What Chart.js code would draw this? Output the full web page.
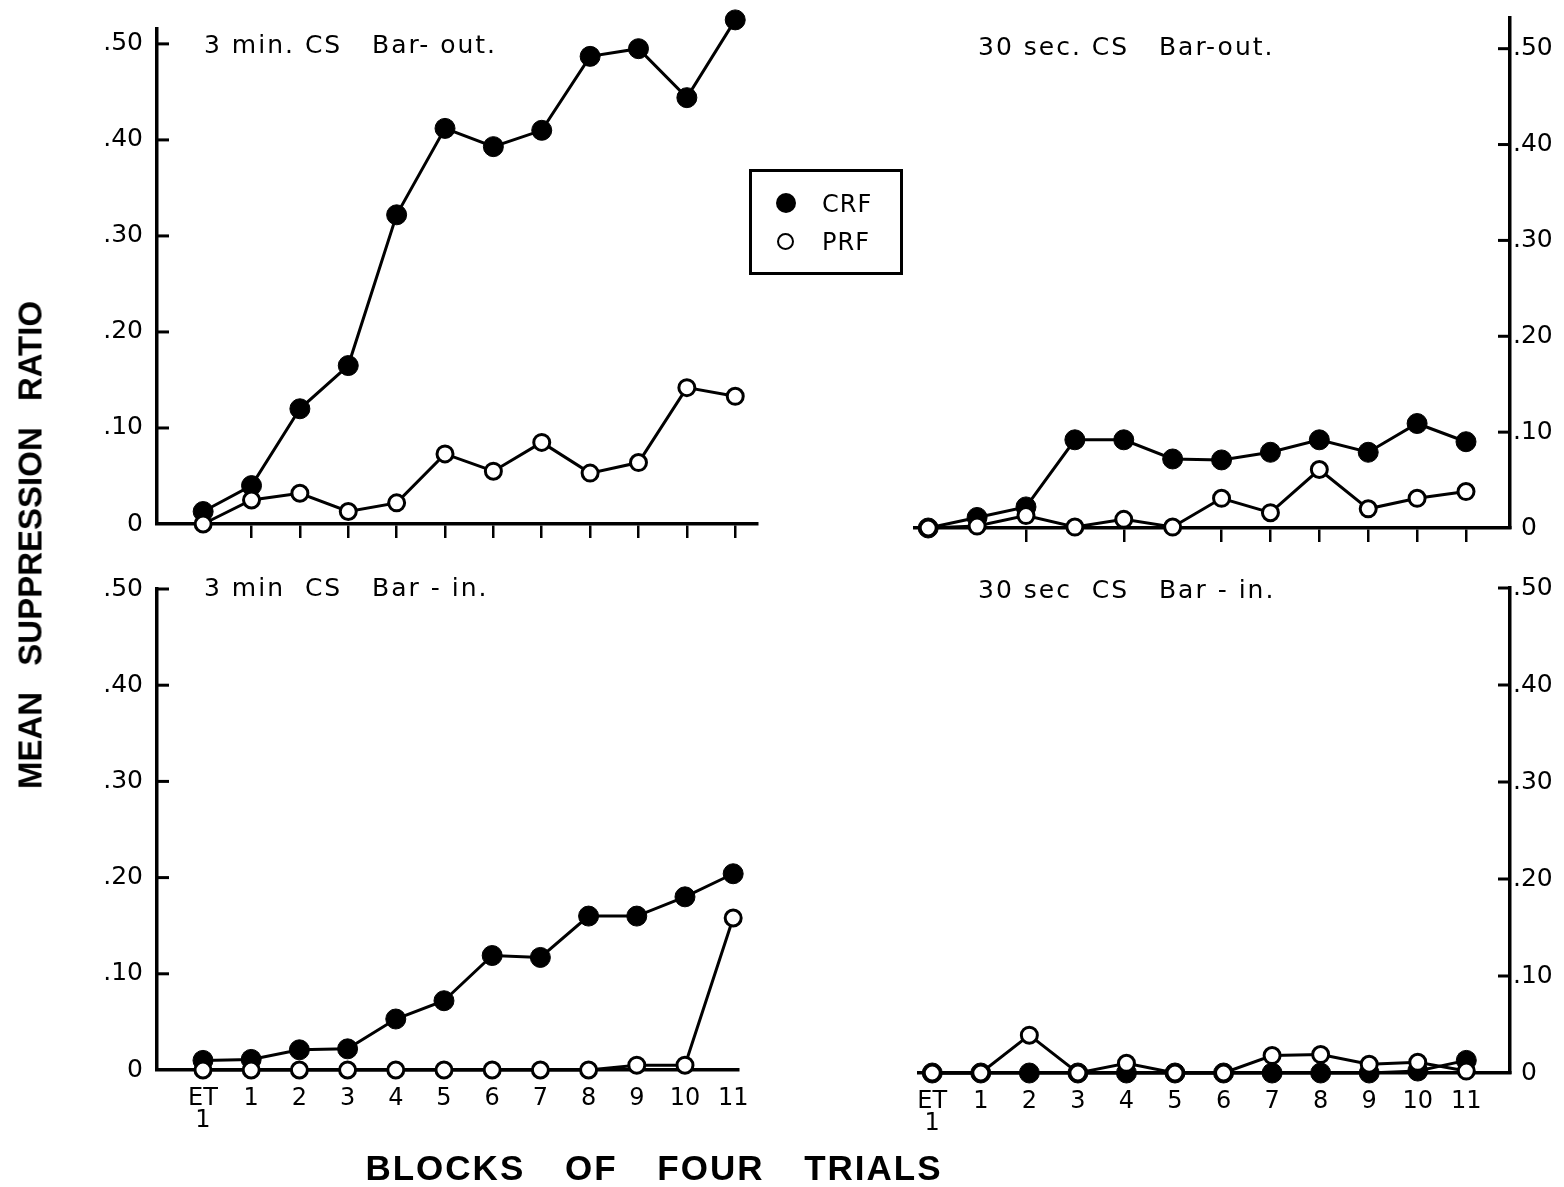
<!DOCTYPE html>
<html>
<head>
<meta charset="utf-8">
<script src="https://cdn.jsdelivr.net/npm/chart.js@4.4.1/dist/chart.umd.min.js"></script>
<style>
  body { margin: 0; background: #fff; }
  #page { position: relative; width: 1564px; height: 1187px; overflow: hidden; background: #fff;
          font-family: 'DejaVu Sans', sans-serif; color: #000; }
  canvas { position: absolute; }
  .ttl { position: absolute; font-size: 25px; letter-spacing: 2px; white-space: pre; line-height: 1; }
  .axttl { position: absolute; font-family: 'Liberation Sans', sans-serif; font-weight: bold;
           font-size: 35px; white-space: pre; line-height: 1; }
  #legend { position: absolute; left: 749px; top: 169px; width: 148px; height: 100px;
            border: 3px solid #000; }
  .lg { position: absolute; left: 0; font-size: 24px; letter-spacing: 1px; line-height: 1; }
  .dot { position: absolute; border-radius: 50%; box-sizing: border-box; }
</style>
</head>
<body>
<div id="page">
  <canvas id="tl" width="800" height="560" style="left:0;top:0"></canvas>
  <canvas id="tr" width="664" height="560" style="left:900px;top:0"></canvas>
  <canvas id="bl" width="800" height="600" style="left:0;top:560px"></canvas>
  <canvas id="br" width="664" height="600" style="left:900px;top:560px"></canvas>

  <div class="ttl" style="left:204px;top:32px">3 min. CS   Bar- out.</div>
  <div class="ttl" style="left:978px;top:34px">30 sec. CS   Bar-out.</div>
  <div class="ttl" style="left:204px;top:575px">3 min  CS   Bar - in.</div>
  <div class="ttl" style="left:978px;top:577px">30 sec  CS   Bar - in.</div>

  <div id="legend">
    <div class="dot" style="left:24px;top:21px;width:20px;height:20px;background:#000"></div>
    <div class="lg" style="left:70px;top:20px">CRF</div>
    <div class="dot" style="left:25px;top:61px;width:17px;height:17px;border:2.5px solid #000"></div>
    <div class="lg" style="left:70px;top:58px">PRF</div>
  </div>

  <div class="axttl" style="left:30px;top:545px;font-size:33px;transform:translate(-50%,-50%) rotate(-90deg);word-spacing:17px">MEAN SUPPRESSION RATIO</div>
  <div class="axttl" style="left:654px;top:1167px;letter-spacing:2px;transform:translate(-50%,-50%);word-spacing:28px">BLOCKS OF FOUR TRIALS</div>
</div>

<script>
// x categories (blocks of four trials)
const blockLabels = [['ET', '1'], '1', '2', '3', '4', '5', '6', '7', '8', '9', '10', '11'];

// y ticks
const yTickValues = [0, 0.1, 0.2, 0.3, 0.4, 0.5];
const yTickLabels = ['0', '.10', '.20', '.30', '.40', '.50'];

// 3 min CS, bar-out
const crf3minOut = [0.013, 0.040, 0.120, 0.165, 0.322, 0.412, 0.393, 0.410, 0.487, 0.495, 0.444, 0.525];
const prf3minOut = [0.000, 0.025, 0.032, 0.013, 0.022, 0.073, 0.055, 0.085, 0.053, 0.064, 0.142, 0.133];

// 30 sec CS, bar-out
const crf30secOut = [0.000, 0.011, 0.022, 0.092, 0.092, 0.072, 0.071, 0.079, 0.092, 0.079, 0.109, 0.090];
const prf30secOut = [0.000, 0.002, 0.013, 0.001, 0.009, 0.001, 0.031, 0.016, 0.061, 0.020, 0.031, 0.038];

// 3 min CS, bar-in
const crf3minIn = [0.010, 0.011, 0.021, 0.022, 0.053, 0.072, 0.119, 0.117, 0.160, 0.160, 0.180, 0.204];
const prf3minIn = [0.000, 0.000, 0.000, 0.000, 0.000, 0.000, 0.000, 0.000, 0.000, 0.005, 0.005, 0.158];

// 30 sec CS, bar-in
const crf30secIn = [0.000, 0.000, 0.000, 0.000, 0.000, 0.000, 0.000, 0.000, 0.000, 0.000, 0.002, 0.013];
const prf30secIn = [0.000, 0.000, 0.039, 0.000, 0.010, 0.000, 0.000, 0.018, 0.019, 0.009, 0.011, 0.002];

const INK = '#000';
const FONT = { family: "'DejaVu Sans', sans-serif", size: 25 };

// short tick marks pointing into the plot, like the original
const inwardTicks = {
  id: 'inwardTicks',
  beforeDatasetsDraw(chart) {
    const y = chart.scales.y;
    const ctx = chart.ctx;
    const right = y.position === 'right';
    const x0 = right ? chart.chartArea.right : chart.chartArea.left;
    ctx.save();
    ctx.strokeStyle = INK;
    ctx.lineWidth = 3;
    y.ticks.forEach(t => {
      if (t.value === 0) return;
      const py = y.getPixelForValue(t.value);
      ctx.beginPath();
      ctx.moveTo(x0, py);
      ctx.lineTo(right ? x0 - 12 : x0 + 12, py);
      ctx.stroke();
    });
    ctx.restore();
  }
};

function toPoints(arr) {
  return arr.map((v, i) => ({ x: i, y: v }));
}

function makePanel(id, o) {
  new Chart(document.getElementById(id), {
    type: 'line',
    data: {
      datasets: [
        {
          label: 'PRF', data: toPoints(o.prf),
          borderColor: INK, borderWidth: 3, backgroundColor: '#fff',
          pointRadius: 8, pointBorderWidth: 3, pointBackgroundColor: '#fff', pointBorderColor: INK,
          tension: 0, clip: false
        },
        {
          label: 'CRF', data: toPoints(o.crf),
          borderColor: INK, borderWidth: 3, backgroundColor: INK,
          pointRadius: 10, pointBorderWidth: 1, pointBackgroundColor: INK, pointBorderColor: INK,
          tension: 0, clip: false
        }
      ]
    },
    options: {
      responsive: false,
      animation: false,
      events: [],
      layout: { padding: o.pad },
      plugins: { legend: { display: false }, tooltip: { enabled: false } },
      scales: {
        x: {
          type: 'linear',
          min: o.xMin, max: o.xMax,
          afterBuildTicks: s => { s.ticks = blockLabels.map((_, i) => ({ value: i })); },
          afterFit: s => { s.height = o.xHeight; },
          border: { display: true, color: INK, width: 3.5 },
          grid: {
            drawOnChartArea: false,
            drawTicks: o.xTicks,
            tickLength: 14,
            lineWidth: 2.5,
            color: c => (o.hideTicks.includes(c.tick && c.tick.value) ? 'rgba(0,0,0,0)' : INK)
          },
          ticks: {
            display: o.xLabels,
            color: INK, font: { ...FONT, size: 24, lineHeight: 0.95 }, padding: 17,
            maxRotation: 0, autoSkip: false,
            callback: v => blockLabels[v]
          }
        },
        y: {
          type: 'linear',
          position: o.yPos,
          min: 0, max: o.yMax,
          afterBuildTicks: s => { s.ticks = yTickValues.map(v => ({ value: v })); },
          afterFit: s => { s.width = o.yWidth; },
          border: { display: true, color: INK, width: 3.5 },
          grid: { drawOnChartArea: false, drawTicks: false },
          ticks: {
            color: INK, font: FONT, padding: o.yPos === 'right' ? 3 : 14,
            callback: v => {
              const k = yTickValues.findIndex(t => Math.abs(t - v) < 1e-9);
              const txt = k >= 0 ? yTickLabels[k] : '';
              return (o.yPos === 'right' && txt === '0') ? ' 0' : txt;
            }
          }
        }
      }
    },
    plugins: [inwardTicks]
  });
}

// left panels: y axis at x=157, ET1 at x=203, 48.2 px per block
makePanel('tl', {
  crf: crf3minOut, prf: prf3minOut,
  yPos: 'left', yWidth: 157, yMax: 0.5155,
  xMin: -0.954, xMax: 11.45, xHeight: 36,
  pad: { top: 23, right: 43, left: 0, bottom: 0 },
  xTicks: true, xLabels: false, hideTicks: [0]
});
makePanel('bl', {
  crf: crf3minIn, prf: prf3minIn,
  yPos: 'left', yWidth: 157, yMax: 0.5,
  xMin: -0.954, xMax: 11.10, xHeight: 90,
  pad: { top: 29, right: 62, left: 0, bottom: 0 },
  xTicks: false, xLabels: true, hideTicks: []
});
// right panels: y axis at x=1510, ET1 at x=928, 48.9 px per block
makePanel('tr', {
  crf: crf30secOut, prf: prf30secOut,
  yPos: 'right', yWidth: 54, yMax: 0.532,
  xMin: -0.27, xMax: 11.90, xHeight: 32,
  pad: { top: 14, right: 0, left: 15, bottom: 0 },
  xTicks: true, xLabels: false, hideTicks: [0, 1, 3, 5]
});
makePanel('br', {
  crf: crf30secIn, prf: prf30secIn,
  yPos: 'right', yWidth: 54, yMax: 0.5,
  xMin: -0.27, xMax: 11.90, xHeight: 87,
  pad: { top: 28, right: 0, left: 15, bottom: 0 },
  xTicks: false, xLabels: true, hideTicks: []
});
</script>
</body>
</html>
